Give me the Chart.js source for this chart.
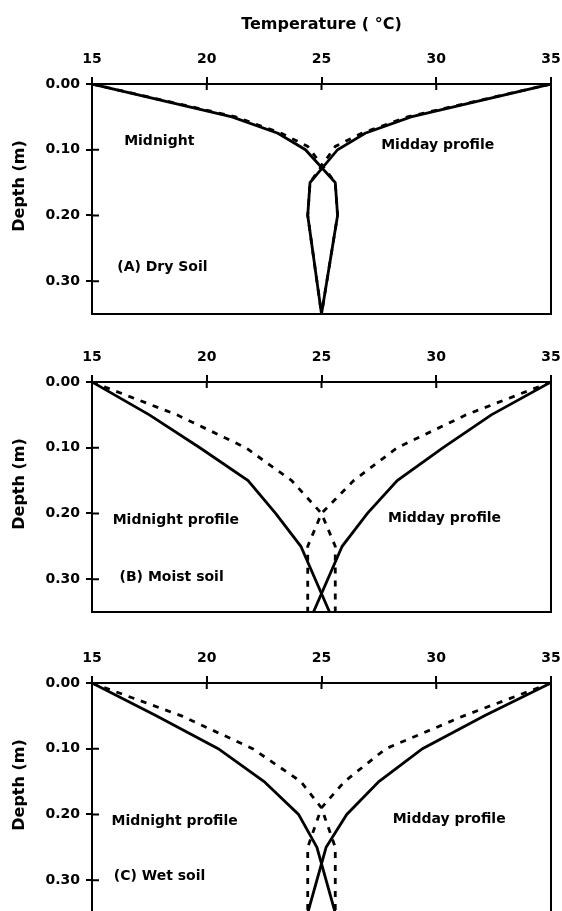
<!DOCTYPE html>
<html>
<head>
<meta charset="utf-8">
<script src="https://cdn.jsdelivr.net/npm/chart.js@4.4.1/dist/chart.umd.min.js"></script>
<style>
  html, body { margin: 0; padding: 0; background: #fff; overflow: hidden; }
  body { width: 562px; height: 911px; position: relative; }
  .panel { position: absolute; left: 0; width: 562px; }
  canvas { display: block; }
</style>
</head>
<body>
<div class="panel" style="top:0;height:330px"><canvas id="dry"></canvas></div>
<div class="panel" style="top:330px;height:300px"><canvas id="moist"></canvas></div>
<div class="panel" style="top:631px;height:300px"><canvas id="wet"></canvas></div>
<script>
// depth (m) and temperature (deg C)
const dryDepth = [0, 0.05, 0.075, 0.10, 0.15, 0.20, 0.35];
const dryMidnight = [15, 21.1, 23.1, 24.3, 25.6, 25.7, 25.0];
const dryMidday = [35, 28.9, 26.9, 25.7, 24.5, 24.4, 25.0];
const dryDashDepth = [0, 0.05, 0.075, 0.095, 0.15, 0.20, 0.35];
const dryMidnightDash = [15, 21.25, 23.25, 24.4, 25.6, 25.7, 25.0];
const dryMiddayDash = [35, 28.75, 26.75, 25.6, 24.5, 24.4, 25.0];

const moistDepth = [0, 0.05, 0.10, 0.15, 0.20, 0.25, 0.35];
const moistMidnight = [15, 17.5, 19.7, 21.8, 23.0, 24.1, 25.35];
const moistMidday = [35, 32.4, 30.3, 28.3, 27.0, 25.9, 24.65];
const moistMidnightDash = [15, 18.7, 21.7, 23.7, 25.0, 25.6, 25.6];
const moistMiddayDash = [35, 31.3, 28.3, 26.4, 25.0, 24.4, 24.4];

const wetDepth = [0, 0.05, 0.10, 0.15, 0.20, 0.25, 0.35];
const wetMidnight = [15, 17.8, 20.5, 22.5, 24.0, 24.8, 25.6];
const wetMidday = [35, 32.1, 29.4, 27.5, 26.1, 25.2, 24.4];
const wetDashDepth = [0, 0.05, 0.10, 0.15, 0.19, 0.25, 0.35];
const wetMidnightDash = [15, 18.9, 22.0, 24.1, 25.0, 25.6, 25.6];
const wetMiddayDash = [35, 31.2, 27.8, 26.0, 25.0, 24.4, 24.4];

const tempMin = 15, tempMax = 35, tempStep = 5;
const depthMax = 0.35, depthStep = 0.1;

const tickFont = { family: '"DejaVu Sans"', weight: 'bold', size: 14 };
const titleFont = { family: '"DejaVu Sans"', weight: 'bold', size: 16 };

function pts(depth, temps) {
  return depth.map((d, i) => ({ x: temps[i], y: d }));
}

function line(depth, temps, dash) {
  return {
    data: pts(depth, temps),
    showLine: true,
    borderColor: '#000',
    borderWidth: 2.8,
    borderDash: dash,
    pointRadius: 0,
    tension: 0
  };
}

// frame, inward half of the ticks, text notes, depth title
const extras = {
  id: 'extras',
  afterDraw(chart, args, o) {
    const { ctx, chartArea: a, scales: { x, y } } = chart;
    ctx.save();
    ctx.strokeStyle = '#000';
    ctx.lineWidth = 2;
    ctx.strokeRect(a.left, a.top, a.right - a.left, a.bottom - a.top);
    ctx.beginPath();
    x.ticks.forEach(t => {
      const px = x.getPixelForValue(t.value);
      ctx.moveTo(px, a.top);
      ctx.lineTo(px, a.top + 6);
    });
    y.ticks.forEach(t => {
      const py = y.getPixelForValue(t.value);
      ctx.moveTo(a.left, py);
      ctx.lineTo(a.left + 7, py);
    });
    ctx.stroke();

    ctx.fillStyle = '#000';
    ctx.font = 'bold 14px "DejaVu Sans"';
    ctx.textBaseline = 'middle';
    o.items.forEach(n => {
      ctx.fillText(n.text, x.getPixelForValue(n.x), y.getPixelForValue(n.y));
    });

    ctx.translate(20, (a.top + a.bottom) / 2 - 13);
    ctx.rotate(-Math.PI / 2);
    ctx.textAlign = 'center';
    ctx.font = 'bold 16px "DejaVu Sans"';
    ctx.fillText('Depth (m)', 0, 0);
    ctx.restore();
  }
};

function makePanel(id, p) {
  return new Chart(document.getElementById(id), {
    type: 'scatter',
    data: {
      datasets: [
        line(p.depth, p.midnight, []),
        line(p.depth, p.midday, []),
        line(p.dashDepth, p.midnightDash, [6, 7]),
        line(p.dashDepth, p.middayDash, [6, 7])
      ]
    },
    plugins: [extras],
    options: {
      responsive: true,
      maintainAspectRatio: false,
      animation: false,
      layout: { padding: { left: 0, right: 11, top: 0, bottom: p.padBottom } },
      plugins: {
        legend: { display: false },
        tooltip: { enabled: false },
        extras: { items: p.notes }
      },
      scales: {
        x: {
          type: 'linear',
          position: 'top',
          min: tempMin,
          max: tempMax,
          ticks: { stepSize: tempStep, color: '#000', font: tickFont, padding: 9 },
          grid: { drawOnChartArea: false, color: '#000', lineWidth: 2, tickLength: 7 },
          border: { color: '#000', width: 2 },
          title: {
            display: p.showTitle,
            text: 'Temperature ( °C)',
            color: '#000',
            font: titleFont,
            padding: { top: 15, bottom: 0 }
          },
          afterFit: s => {
            s.height = p.topHeight;
            s.paddingLeft = 0;
            s.paddingRight = 0;
          }
        },
        y: {
          type: 'linear',
          reverse: true,
          min: 0,
          max: depthMax,
          ticks: {
            stepSize: depthStep,
            includeBounds: false,
            color: '#000',
            font: tickFont,
            padding: 6,
            callback: v => v.toFixed(2)
          },
          grid: { drawOnChartArea: false, color: '#000', lineWidth: 2, tickLength: 6 },
          border: { color: '#000', width: 2 },
          afterFit: s => { s.width = 92; }
        }
      }
    }
  });
}

makePanel('dry', {
  depth: dryDepth, midnight: dryMidnight, midday: dryMidday,
  dashDepth: dryDashDepth, midnightDash: dryMidnightDash, middayDash: dryMiddayDash,
  showTitle: true, topHeight: 84, padBottom: 16,
  notes: [
    { text: 'Midnight', x: 16.4, y: 0.088 },
    { text: 'Midday profile', x: 27.6, y: 0.094 },
    { text: '(A) Dry Soil', x: 16.1, y: 0.279 }
  ]
});

makePanel('moist', {
  depth: moistDepth, midnight: moistMidnight, midday: moistMidday,
  dashDepth: moistDepth, midnightDash: moistMidnightDash, middayDash: moistMiddayDash,
  showTitle: false, topHeight: 52, padBottom: 18,
  notes: [
    { text: 'Midnight profile', x: 15.9, y: 0.21 },
    { text: 'Midday profile', x: 27.9, y: 0.207 },
    { text: '(B) Moist soil', x: 16.2, y: 0.297 }
  ]
});

makePanel('wet', {
  depth: wetDepth, midnight: wetMidnight, midday: wetMidday,
  dashDepth: wetDashDepth, midnightDash: wetMidnightDash, middayDash: wetMiddayDash,
  showTitle: false, topHeight: 52, padBottom: 18,
  notes: [
    { text: 'Midnight profile', x: 15.85, y: 0.21 },
    { text: 'Midday profile', x: 28.1, y: 0.207 },
    { text: '(C) Wet soil', x: 15.95, y: 0.294 }
  ]
});
</script>
</body>
</html>
